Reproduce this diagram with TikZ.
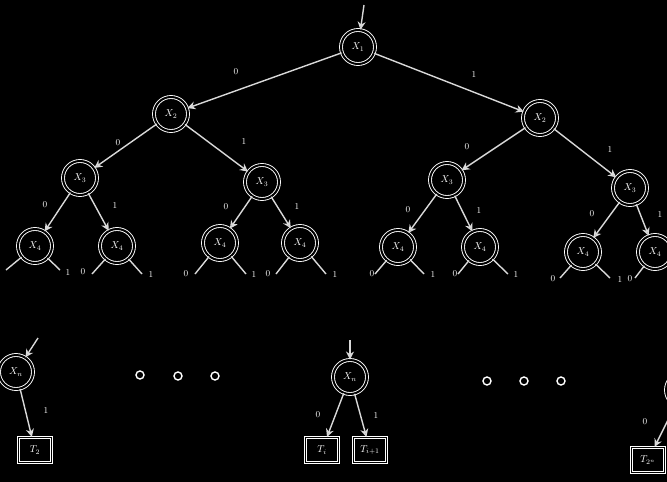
\documentclass[tikz,border=0pt]{standalone}
\usetikzlibrary{arrows.meta}
\begin{document}
\begin{tikzpicture}[x=1pt,y=-1pt,
  var/.style={circle,draw=white,double=black,double distance=2pt,line width=0.9pt,minimum size=34pt,inner sep=0pt,text=white,font=\normalsize},
  termbox/.style={shape=rectangle,draw=white,double=black,double distance=1.6pt,line width=1.1pt,minimum width=33pt,minimum height=25pt,inner sep=1pt,text=white,font=\normalsize},
  edge/.style={draw=white!85!black,line width=1.4pt,-{Stealth[open,length=8pt,width=8pt]}},
  leafedge/.style={draw=white!85!black,line width=1.4pt},
  lab/.style={text=white,font=\small,inner sep=1pt},
  dot/.style={circle,draw=white,line width=1.4pt,minimum size=8pt,inner sep=0pt}]
\fill[black] (0,0) rectangle (667,482);
\useasboundingbox (0,0) rectangle (667,482);
% root
\coordinate (in0) at (364,5);
\node[var] (r) at (358,47) {$X_1$};
\draw[edge] (in0) -- (r);
% level 2
\node[var] (a) at (171,114) {$X_2$};
\node[var] (b) at (540,118) {$X_2$};
\draw[edge] (r) -- (a); \draw[edge] (r) -- (b);
\node[lab] (la) at (236,72) {0};
\node[lab] (lb) at (474,75) {1};
% level 3
\node[var] (aa) at (80,178) {$X_3$};
\node[var] (ab) at (262,182) {$X_3$};
\node[var] (ba) at (447,180) {$X_3$};
\node[var] (bb) at (630,188) {$X_3$};
\draw[edge] (a) -- (aa); \draw[edge] (a) -- (ab);
\draw[edge] (b) -- (ba); \draw[edge] (b) -- (bb);
\node[lab] (laa) at (118,143) {0};
\node[lab] (lab1) at (244,142) {1};
\node[lab] (lba) at (467,147) {0};
\node[lab] (lbb) at (610,150) {1};
% level 4
\node[var] (n1) at (35,246) {$X_4$};
\node[var] (n2) at (117,246) {$X_4$};
\node[var] (n3) at (220,243) {$X_4$};
\node[var] (n4) at (300,243) {$X_4$};
\node[var] (n5) at (398,247) {$X_4$};
\node[var] (n6) at (480,247) {$X_4$};
\node[var] (n7) at (583,252) {$X_4$};
\node[var] (n8) at (655,252) {$X_4$};
\draw[edge] (aa) -- (n1); \draw[edge] (aa) -- (n2);
\draw[edge] (ab) -- (n3); \draw[edge] (ab) -- (n4);
\draw[edge] (ba) -- (n5); \draw[edge] (ba) -- (n6);
\draw[edge] (bb) -- (n7); \draw[edge] (bb) -- (n8);
\node[lab] (l1) at (45,205) {0};
\node[lab] (l2) at (115,205) {1};
\node[lab] (l3) at (226,207) {0};
\node[lab] (l4) at (297,207) {1};
\node[lab] (l5) at (408,210) {0};
\node[lab] (l6) at (479,211) {1};
\node[lab] (l7) at (592,214) {0};
\node[lab] (l8) at (660,214) {1};
% level 4 outgoing
\foreach \n/\lx/\rx/\yy in {n1/6/60/270, n2/92/142/274, n3/195/246/274, n4/276/326/274, n5/375/424/274, n6/458/508/274, n7/560/610/278, n8/635/685/278}{
  \coordinate (\n L) at (\lx,\yy);
  \coordinate (\n R) at (\rx,\yy);
  \draw[leafedge] (\n) -- (\n L);
  \draw[leafedge] (\n) -- (\n R);
}
\node[lab] (e1r) at (68,272) {1};
\node[lab] (e2l) at (83,272) {0};
\node[lab] (e2r) at (151,274) {1};
\node[lab] (e3l) at (186,274) {0};
\node[lab] (e3r) at (254,274) {1};
\node[lab] (e4l) at (268,274) {0};
\node[lab] (e4r) at (335,274) {1};
\node[lab] (e5l) at (372,274) {0};
\node[lab] (e5r) at (433,274) {1};
\node[lab] (e6l) at (455,274) {0};
\node[lab] (e6r) at (516,274) {1};
\node[lab] (e7l) at (553,279) {0};
\node[lab] (e7r) at (620,279) {1};
\node[lab] (e8l) at (630,279) {0};
% dots
\foreach \i/\x/\y in {1/140/375, 2/178/376, 3/215/376, 4/487/381, 5/524/381, 6/561/381}{
  \node[dot] (d\i) at (\x,\y) {};
}
% bottom left
\coordinate (in1) at (38,338);
\node[var] (xl) at (16,372) {$X_n$};
\draw[edge] (in1) -- (xl);
\node[termbox] (t2) at (35,450) {$T_2$};
\draw[edge] (xl) -- (t2);
\node[lab] (lt2) at (46,410) {1};
% bottom middle
\coordinate (in2) at (350,340);
\node[var] (xm) at (350,377) {$X_n$};
\draw[edge] (in2) -- (xm);
\node[termbox] (ti) at (322,450) {$T_i$};
\node[termbox] (ti1) at (370,450) {$T_{i+1}$};
\draw[edge] (xm) -- (ti);
\draw[edge] (xm) -- (ti1);
\node[lab] (lti) at (318,415) {0};
\node[lab] (lti1) at (376,415) {1};
% bottom right
\node[var] (xr) at (683,390) {};
\node[termbox] (tn) at (648,460) {$T_{2^n}$};
\draw[edge] (xr) -- (tn);
\node[lab] (ltn) at (645,422) {0};
\end{tikzpicture}
\end{document}
